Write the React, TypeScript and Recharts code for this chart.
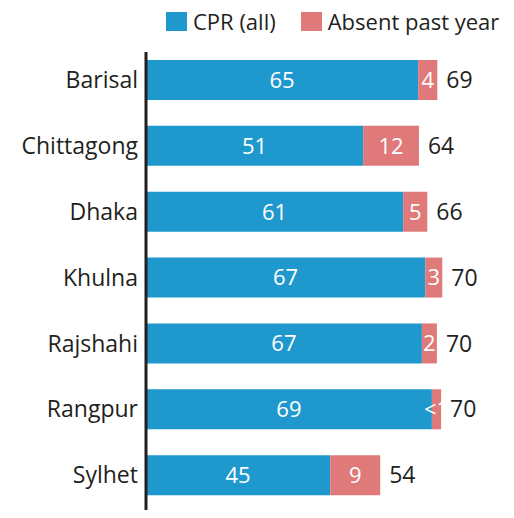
import React from "react";
import { BarChart, Bar, XAxis, YAxis, LabelList } from "recharts";

const regions = ["Barisal", "Chittagong", "Dhaka", "Khulna", "Rajshahi", "Rangpur", "Sylhet"];
// bar lengths
const cprValues = [65.3, 52.1, 61.7, 67.0, 66.2, 68.6, 44.2];
const absentValues = [4.6, 13.4, 5.8, 4.1, 3.6, 2.2, 12.0];
// printed labels
const cprLabels = ["65", "51", "61", "67", "67", "69", "45"];
const absentLabels = ["4", "12", "5", "3", "2", "<1", "9"];
const totalLabels = ["69", "64", "66", "70", "70", "70", "54"];

const seriesNames = ["CPR (all)", "Absent past year"];
const BLUE = "#1f99cd";
const PINK = "#e07a7a";
const INK = "#231f20";

const data = regions.map((name, i) => ({
  name,
  cpr: cprValues[i],
  absent: absentValues[i],
  cprLabel: cprLabels[i],
  absentLabel: absentLabels[i],
  totalLabel: totalLabels[i],
}));

const FONT = '"Open Sans", sans-serif';

const App: React.FC = () => {
  return (
    <div style={{ position: "relative", width: 514, height: 518, margin: -8, fontFamily: FONT, background: "#fff", overflow: "hidden" }}>
      <div
        style={{
          position: "absolute",
          top: 6,
          left: 166,
          width: 360,
          display: "flex",
          alignItems: "center",
          whiteSpace: "nowrap",
          fontSize: 22,
          color: INK,
        }}
      >
        {seriesNames.map((s, i) => (
          <span key={s} style={{ display: "flex", alignItems: "center", marginRight: i === 0 ? 25 : 0, flexShrink: 0 }}>
            <span style={{ width: 21, height: 19, background: i === 0 ? BLUE : PINK, marginRight: 6, display: "inline-block" }} />
            {s}
          </span>
        ))}
      </div>
      <BarChart
        layout="vertical"
        width={514}
        height={518}
        data={data}
        margin={{ top: 52, right: 0, bottom: 0, left: 0 }}
        style={{ fontFamily: FONT }}
      >
        <XAxis type="number" hide domain={[0, 88.3]} allowDataOverflow />
        <YAxis
          type="category"
          dataKey="name"
          width={146}
          tickLine={false}
          axisLine={{ stroke: INK, strokeWidth: 3 }}
          tick={{ fontSize: 23, fill: INK }}
          padding={{ top: -5, bottom: 10 }}
        />
        <Bar dataKey="cpr" stackId="a" fill={BLUE} barSize={40} isAnimationActive={false}>
          <LabelList dataKey="cprLabel" position="center" fill="#fff" fontSize={22} />
        </Bar>
        <Bar dataKey="absent" stackId="a" fill={PINK} barSize={40} isAnimationActive={false}>
          <LabelList dataKey="absentLabel" position="center" fill="#fff" fontSize={22} />
          <LabelList dataKey="totalLabel" position="right" offset={9} fill={INK} fontSize={23} />
        </Bar>
      </BarChart>
    </div>
  );
};

export default App;
